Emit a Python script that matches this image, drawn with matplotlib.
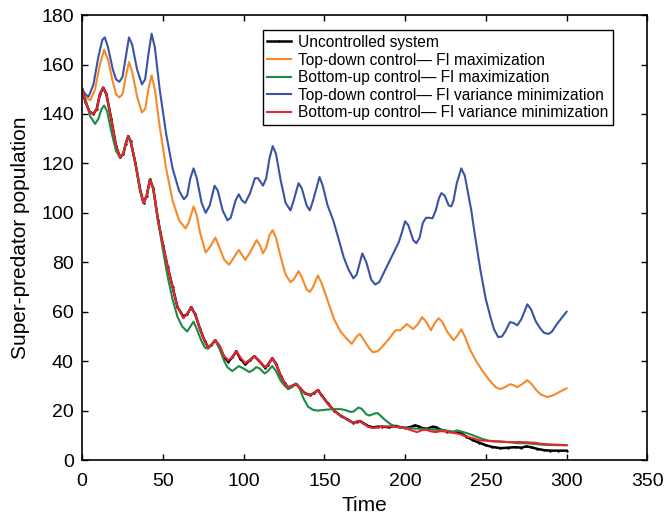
import matplotlib
matplotlib.use('Agg')
import matplotlib.pyplot as plt

# data (time, super-predator population)
blue_t = [0, 2, 4, 7, 10, 12.5, 14, 16, 19, 21, 23, 25, 27, 29, 31, 34, 37, 39, 41, 43, 45, 48, 52, 56, 60, 63,
          65, 67, 69, 71, 74, 76.5, 79, 82, 84, 87, 90, 92, 95, 97, 99, 101, 104, 107, 109, 112, 114, 116, 118,
          120, 123, 126, 129, 131, 134, 136, 139, 141, 143, 147, 149, 152, 155.5, 159, 162, 165, 168, 170, 173.5,
          176, 179, 181.5, 184, 187, 190, 193, 196, 198, 200, 202, 205, 207, 209, 211, 213, 215, 217, 219, 221,
          222.5, 224.5, 227, 228.6, 230, 232, 234.8, 237, 239, 241, 243, 246.6, 250, 252.8, 255, 257.7, 260, 262,
          265, 267, 269.5, 272, 275.7, 278, 281, 284, 286, 288.8, 291, 294, 297, 300]
blue_y = [150, 148, 147, 152, 163, 170, 171, 167, 158, 154, 153, 155, 163, 171, 168, 158, 152, 154, 164, 172.5,
          167, 150, 132, 118, 109, 105.5, 107, 114, 118, 114, 104, 100, 103, 111, 109, 101, 97, 98, 105, 107.5,
          105, 104, 108, 114, 114, 111, 114, 122, 127, 124, 113, 104, 101, 105, 112, 110, 103, 101, 105, 114.5,
          111, 103, 97, 89, 82, 77, 73.5, 75, 83.6, 80, 73, 71, 72, 76, 80, 84, 88, 92, 96.6, 95, 89, 87.7, 90,
          96, 98, 98, 97.8, 101, 106, 108, 107, 103, 102.6, 105, 112, 118, 115, 108, 101, 92, 77, 65, 58, 53,
          49.7, 50, 52, 55.8, 55.5, 54.5, 57, 63, 61, 56, 53, 51.5, 51, 52, 55, 57.5, 60]

orange_t = [0, 2, 5, 8, 11, 13.6, 16, 19, 21, 23, 25, 27, 29, 31, 34, 37, 39, 41, 43, 45, 48, 52, 56, 60, 64, 66,
            69, 71, 73, 76.5, 79, 82.5, 85, 88, 91, 93, 97, 99, 101, 104, 108, 110, 112, 114, 116, 118, 120, 123,
            126, 129, 131, 134, 136, 139, 141, 143, 146, 148, 152, 156, 160, 164, 167, 170, 172, 175, 178, 180,
            183, 186, 190, 194, 197, 201, 205, 208, 210.5, 213, 216, 218, 220.7, 223, 226, 230, 232, 234.8, 237,
            240, 244, 248, 252, 256, 259, 262, 265, 267, 269.5, 272, 275.7, 278, 281, 284, 288, 291, 294, 297, 300]
orange_y = [150, 147, 145.5, 150, 160, 166, 162, 153, 148, 146.7, 148, 155, 161, 157, 147, 140.6, 142, 150, 155.6,
            150, 135, 118, 105, 97, 93.7, 96, 102.6, 99, 92, 84, 86, 90, 86, 81, 79, 81, 85, 83, 81, 84, 89, 87,
            83.6, 86, 91, 93, 90, 82, 75, 72, 73, 76.4, 74, 69, 68, 70, 74.7, 72, 64.6, 57, 52, 49, 47, 50, 51, 48,
            45, 43.6, 44, 46, 49, 52.5, 52.5, 55, 53, 55, 57.8, 56, 52.5, 55, 57.4, 56, 52, 48.5, 50, 52.9, 50, 45,
            40, 36, 32.5, 29.5, 28.7, 29.5, 30.7, 30.3, 29.5, 30.5, 32.3, 31, 28.5, 26.5, 25.5, 26, 27, 28, 29]

green_t = [0, 2, 5, 8, 10, 12, 13.6, 15.5, 18, 21, 23.5, 25.5, 27, 28.5, 30, 33, 36, 38, 40, 42, 44, 47, 50, 53,
           56, 59, 62, 65, 67, 69, 71, 74, 76, 78, 80, 82.4, 85, 88, 90, 93, 95, 97, 100, 103.5, 106, 107.8, 110,
           113, 115, 117.7, 120, 123, 125.5, 127.6, 130, 132, 134, 137, 140, 143, 146, 150, 155, 160, 163, 166,
           168, 171, 173, 176, 178, 181, 183, 185, 188, 191, 195, 200, 205, 210, 215, 220, 225, 230, 232, 235,
           240, 244, 248, 252, 259, 265, 270, 275, 280, 285, 290, 295, 300]
green_y = [150, 146, 139, 136, 138, 142, 143.4, 141, 133, 125, 122.4, 124, 128, 130.5, 129, 120, 109, 104, 107,
           113.5, 110, 97, 85, 74, 65, 58, 54, 52, 54, 56, 53, 48, 45.5, 45, 46.5, 48.5, 45, 40, 37.5, 36, 37, 38,
           37, 35.6, 36.5, 37.6, 37, 35, 36, 38, 36, 32, 30, 28.7, 29.5, 31, 30, 25, 21.5, 20.3, 20, 20.3, 20.6,
           20.6, 20.2, 19.5, 19.6, 21.2, 20.8, 18.5, 18, 18.8, 19, 17.8, 16, 14.5, 13.3, 13, 12.8, 12.6, 12.4,
           12.2, 12, 11.5, 12, 11.5, 10.5, 9.5, 8.5, 7.8, 7.5, 7.2, 6.8, 6.8, 6.5, 6.2, 6.1, 6, 6]

red_t = [0, 2, 4.5, 7, 9, 11, 13, 15, 18, 21, 23.5, 25.5, 27, 28.5, 30, 33, 36, 38, 40, 42, 44, 47, 50, 53, 56,
         59, 62.6, 65, 67.5, 70, 73, 76, 78, 80, 82.4, 85, 88, 90.5, 93, 95.4, 98, 101, 104, 106.6, 109, 113.4,
         115, 117.7, 120, 123, 125.5, 127.6, 130, 132.6, 135, 138, 141, 143.5, 146, 148, 152, 156, 160, 164, 168,
         170, 172, 174, 177, 180, 183, 186, 190, 195, 200, 204, 207.5, 210, 213, 216, 219, 222, 226, 230, 234,
         238, 242, 246, 250, 255, 260, 265, 270, 275, 280, 285, 290, 295, 300]
red_y = [150, 145, 141, 140, 142, 148, 150.7, 148, 138, 127, 122.4, 124, 128, 131, 129, 120, 109, 104, 107, 113.5,
         110, 97, 87, 78, 70, 62, 57.4, 59, 61.8, 59, 53, 48, 45.7, 46.5, 48.5, 46.5, 42, 40.4, 41.5, 44, 41.5,
         39.2, 40.5, 42, 40.5, 37.6, 38.5, 41.2, 39, 34, 31, 29.5, 30, 30.7, 29, 27, 26.3, 27, 28.3, 26.5, 23, 20,
         18, 16.5, 15, 15.5, 15.8, 15, 13.5, 12.9, 13.2, 13.5, 13.6, 13.4, 13, 12, 11.3, 12, 12.3, 11.6, 11.3,
         11.7, 11.5, 11, 10.5, 9.5, 8.8, 8, 7.8, 7.5, 7.4, 7.2, 7.3, 7.2, 7, 6.5, 6.3, 6.2, 6]

black_t = [0, 2, 4.5, 7, 9, 11, 13, 15, 18, 21, 23.5, 25.5, 27, 28.5, 30, 33, 36, 38, 40, 42, 44, 47, 50, 53, 56,
           59, 62.6, 65, 67.5, 70, 73, 76, 78, 80, 82.4, 85, 88, 90.5, 93, 95.4, 98, 101, 104, 106.6, 109, 113.4,
           115, 117.7, 120, 123, 125.5, 127.6, 130, 132.6, 135, 138, 141, 143.5, 146, 148, 152, 156, 160, 164, 168,
           170, 172, 174, 177, 180, 183, 186, 190, 194, 197, 200, 203, 206, 208, 211, 214, 217, 219, 222, 226, 230,
           234, 238, 242, 246, 250, 254, 259, 264, 268, 272, 275, 278, 282, 286, 290, 295, 300]
black_y = [150, 145, 141, 140, 142, 148, 150.7, 148, 138, 127, 122.4, 124, 128, 131, 129, 120, 109, 104, 107,
           113.5, 110, 97, 87, 78, 70, 62, 58, 59, 61.8, 59, 53, 48, 45.7, 46.5, 48.5, 46, 41.5, 39.8, 41.5, 44,
           41, 38.7, 40.5, 42, 40.5, 37.3, 38.5, 41.2, 39, 34, 31, 29.3, 30, 30.7, 29, 27, 26.3, 27, 28.3, 26.5, 23,
           20, 18, 16.5, 15, 15.5, 15.8, 15, 13.8, 13.2, 13.5, 13.5, 13.3, 13.8, 13.3, 13, 13.3, 14, 13.7, 12.8,
           12.7, 13.5, 13.3, 12.3, 11.5, 11.2, 11, 9.5, 8, 7, 6, 5.3, 4.8, 5, 5.2, 5, 5.5, 5.2, 4.5, 4, 3.8, 3.8,
           3.8]

labels = ['Uncontrolled system',
          'Top-down control\u2014 FI maximization',
          'Bottom-up control\u2014 FI maximization',
          'Top-down control\u2014 FI variance minimization',
          'Bottom-up control\u2014 FI variance minimization']

plt.rcParams['font.family'] = ['Liberation Sans', 'DejaVu Sans']

fig = plt.figure(figsize=(6.68, 5.21), dpi=100)
ax = fig.add_axes([0.123, 0.117, 0.846, 0.854])

lw = 1.5
ax.plot(black_t, black_y, color='black', lw=lw + 0.3, marker='.', markersize=1.5, label=labels[0])
ax.plot(orange_t, orange_y, color='#f7892a', lw=lw, label=labels[1])
ax.plot(green_t, green_y, color='#1b8a45', lw=lw, label=labels[2])
ax.plot(blue_t, blue_y, color='#3a54a4', lw=lw, label=labels[3])
ax.plot(red_t, red_y, color='#e8262b', lw=lw, label=labels[4])

ax.set_xlim(0, 350)
ax.set_ylim(0, 180)
ax.set_xticks(range(0, 351, 50))
ax.set_yticks(range(0, 181, 20))
ax.tick_params(direction='in', top=True, right=True, length=4, width=1, labelsize=14)
ax.tick_params(axis='x', pad=9)
ax.tick_params(axis='y', pad=6)
for s in ax.spines.values():
    s.set_linewidth(1.2)

ax.set_xlabel('Time', fontsize=15, labelpad=5)
ax.set_ylabel('Super-predator population', fontsize=15, labelpad=8)

leg = ax.legend(loc='upper right', bbox_to_anchor=(0.94, 0.966), borderaxespad=0, fontsize=11.2,
                numpoints=1, handlelength=1.5, handletextpad=0.5, labelspacing=0.17, borderpad=0.3,
                fancybox=False, framealpha=1, edgecolor='black')
leg.get_frame().set_linewidth(1.0)

fig.savefig('out.png', dpi=100)
